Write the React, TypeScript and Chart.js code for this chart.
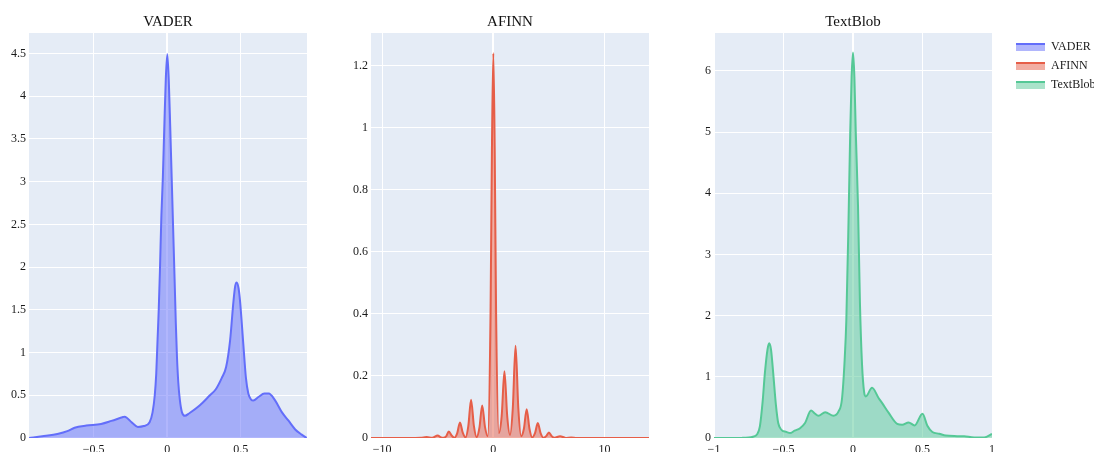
import React, { useEffect, useRef } from 'react';
import { Chart, registerables } from 'chart.js';

Chart.register(...registerables);

const FONT = '"Liberation Serif", "Times New Roman", serif';

// ---------------- data ----------------
const vaderX = [-0.94, -0.85, -0.74, -0.68, -0.63, -0.55, -0.45, -0.38, -0.3, -0.29, -0.24, -0.2, -0.16, -0.12, -0.1, -0.085, -0.075, -0.066, -0.058, -0.05, -0.04, -0.03, -0.02, -0.01, 0, 0.01, 0.02, 0.03, 0.04, 0.05, 0.058, 0.066, 0.075, 0.086, 0.1, 0.12, 0.15, 0.22, 0.29, 0.33, 0.37, 0.4, 0.427, 0.45, 0.462, 0.472, 0.485, 0.495, 0.517, 0.535, 0.551, 0.57, 0.585, 0.62, 0.66, 0.69, 0.733, 0.78, 0.823, 0.87, 0.914, 0.948];
const vaderY = [0, 0.02, 0.05, 0.08, 0.12, 0.145, 0.165, 0.2, 0.245, 0.25, 0.18, 0.13, 0.14, 0.185, 0.3, 0.5, 0.75, 1.15, 1.5, 1.95, 2.6, 3.05, 3.65, 4.2, 4.49, 4.2, 3.65, 3.05, 2.45, 1.85, 1.35, 0.95, 0.65, 0.44, 0.3, 0.26, 0.29, 0.38, 0.5, 0.57, 0.7, 0.83, 1.14, 1.6, 1.78, 1.82, 1.75, 1.6, 1.1, 0.7, 0.52, 0.45, 0.44, 0.48, 0.52, 0.52, 0.44, 0.3, 0.205, 0.1, 0.04, 0];

const afinnX = [-11, -7, -6.5, -6, -5.5, -5, -4.75, -4.5, -4.25, -4, -3.75, -3.5, -3.25, -3, -2.75, -2.5, -2.25, -2, -1.75, -1.5, -1.25, -1, -0.75, -0.5, -0.25, -0.125, 0, 0.125, 0.25, 0.5, 0.75, 1, 1.25, 1.5, 1.75, 2, 2.25, 2.5, 2.75, 3, 3.25, 3.5, 3.75, 4, 4.25, 4.5, 4.75, 5, 5.25, 5.5, 6, 6.5, 7, 7.5, 14];
const afinnY = [0, 0, 0.0005, 0.003, 0.0005, 0.008, 0.003, 0.001, 0.005, 0.021, 0.008, 0.001, 0.015, 0.05, 0.017, 0.002, 0.038, 0.123, 0.04, 0.003, 0.033, 0.105, 0.036, 0.006, 0.4, 0.93, 1.24, 0.93, 0.4, 0.016, 0.07, 0.215, 0.07, 0.01, 0.095, 0.297, 0.095, 0.006, 0.03, 0.093, 0.03, 0.002, 0.016, 0.048, 0.016, 0.001, 0.006, 0.018, 0.006, 0.0005, 0.006, 0.0003, 0.002, 0, 0];

const textblobX = [-1, -0.8, -0.72, -0.69, -0.67, -0.65, -0.634, -0.615, -0.603, -0.59, -0.574, -0.555, -0.538, -0.513, -0.48, -0.453, -0.42, -0.381, -0.345, -0.302, -0.275, -0.249, -0.2, -0.14, -0.104, -0.08, -0.06, -0.048, -0.032, -0.02, -0.01, 0, 0.01, 0.02, 0.036, 0.05, 0.065, 0.08, 0.092, 0.137, 0.185, 0.21, 0.257, 0.318, 0.354, 0.4, 0.443, 0.5, 0.535, 0.571, 0.62, 0.667, 0.75, 0.8, 0.872, 0.944, 1];
const textblobY = [0, 0.002, 0.02, 0.06, 0.19, 0.6, 1.06, 1.45, 1.55, 1.45, 1.06, 0.55, 0.245, 0.13, 0.1, 0.08, 0.12, 0.16, 0.245, 0.45, 0.4, 0.364, 0.42, 0.364, 0.435, 0.625, 1.28, 1.93, 3.57, 5.0, 5.9, 6.3, 5.9, 5.0, 3.8, 2.2, 1.2, 0.75, 0.68, 0.82, 0.65, 0.57, 0.41, 0.23, 0.215, 0.255, 0.206, 0.397, 0.2, 0.098, 0.07, 0.04, 0.03, 0.027, 0.01, 0.01, 0.065];

const vaderTicksX = [-0.5, 0, 0.5];
const vaderTicksY = [0, 0.5, 1, 1.5, 2, 2.5, 3, 3.5, 4, 4.5];
const afinnTicksX = [-10, 0, 10];
const afinnTicksY = [0, 0.2, 0.4, 0.6, 0.8, 1, 1.2];
const textblobTicksX = [-1, -0.5, 0, 0.5, 1];
const textblobTicksY = [0, 1, 2, 3, 4, 5, 6];

const seriesNames = ['VADER', 'AFINN', 'TextBlob'];
const lineColors = ['#636EFA', '#E65E48', '#55C896'];
const fillColors = ['rgba(99,110,250,0.5)', 'rgba(230,94,72,0.5)', 'rgba(85,200,150,0.5)'];

// ---------------- layout ----------------
const H = 452;
const AXIS_W = 40;
const PAD_R = 15;

type Sub = {
  idx: number;
  xs: number[];
  ys: number[];
  xMin: number;
  xMax: number;
  yMax: number;
  xTicks: number[];
  yTicks: number[];
  plotLeft: number;
  plotWidth: number;
};

const subs: Sub[] = [
  { idx: 0, xs: vaderX, ys: vaderY, xMin: -0.94, xMax: 0.95, yMax: 4.74, xTicks: vaderTicksX, yTicks: vaderTicksY, plotLeft: 29, plotWidth: 278 },
  { idx: 1, xs: afinnX, ys: afinnY, xMin: -11, xMax: 14, yMax: 1.305, xTicks: afinnTicksX, yTicks: afinnTicksY, plotLeft: 371, plotWidth: 278 },
  { idx: 2, xs: textblobX, ys: textblobY, xMin: -1, xMax: 1, yMax: 6.62, xTicks: textblobTicksX, yTicks: textblobTicksY, plotLeft: 714, plotWidth: 278 },
];

const fmt = (v: number) => {
  const s = String(Math.round(v * 1000) / 1000);
  return s.replace('-', '\u2212');
};

const bgPlugin = {
  id: 'plotBg',
  beforeDraw(chart: any) {
    const { ctx, chartArea } = chart;
    if (!chartArea) return;
    ctx.save();
    ctx.fillStyle = '#E5ECF6';
    ctx.fillRect(chartArea.left, chartArea.top, chartArea.right - chartArea.left, chartArea.bottom - chartArea.top);
    ctx.restore();
  },
};

function SubPlot({ s }: { s: Sub }) {
  const ref = useRef<HTMLCanvasElement>(null);
  const width = AXIS_W + s.plotWidth + PAD_R;
  useEffect(() => {
    const canvas = ref.current!;
    const points = s.xs.map((x, i) => ({ x, y: s.ys[i] }));
    const gridWidth = (c: any) => (c.tick && c.tick.value === 0 ? 2 : 1);
    const chart = new Chart(canvas, {
      type: 'line',
      data: {
        datasets: [
          {
            label: seriesNames[s.idx],
            data: points,
            borderColor: lineColors[s.idx],
            backgroundColor: fillColors[s.idx],
            borderWidth: 2,
            pointRadius: 0,
            fill: 'origin',
            cubicInterpolationMode: 'monotone',
          },
        ],
      },
      options: {
        responsive: false,
        animation: false,
        layout: { padding: { left: 0, right: PAD_R, top: 0, bottom: 0 } },
        plugins: {
          legend: { display: false },
          tooltip: { enabled: false },
          title: {
            display: true,
            text: seriesNames[s.idx],
            fullSize: false,
            color: '#111',
            font: { family: FONT, size: 15, weight: 'normal' },
            padding: { top: 13, bottom: 2 },
          },
        },
        scales: {
          x: {
            type: 'linear',
            min: s.xMin,
            max: s.xMax,
            border: { display: false },
            grid: { color: '#ffffff', lineWidth: gridWidth, drawTicks: false },
            ticks: {
              color: '#1a1a1a',
              font: { family: FONT, size: 12 },
              padding: 5,
              maxRotation: 0,
              autoSkip: false,
              callback: (v: any) => fmt(Number(v)),
            },
            afterBuildTicks: (axis: any) => {
              axis.ticks = s.xTicks.map((v) => ({ value: v }));
            },
            afterFit: (axis: any) => {
              axis.height = 14;
              axis.paddingLeft = 0;
              axis.paddingRight = 0;
            },
          },
          y: {
            type: 'linear',
            min: 0,
            max: s.yMax,
            border: { display: false },
            grid: { color: '#ffffff', lineWidth: gridWidth, drawTicks: false },
            ticks: {
              color: '#1a1a1a',
              font: { family: FONT, size: 12 },
              padding: 3,
              autoSkip: false,
              callback: (v: any) => fmt(Number(v)),
            },
            afterBuildTicks: (axis: any) => {
              axis.ticks = s.yTicks.map((v) => ({ value: v }));
            },
            afterFit: (axis: any) => {
              axis.width = AXIS_W;
              axis.paddingTop = 0;
              axis.paddingBottom = 0;
            },
          },
        },
      } as any,
      plugins: [bgPlugin],
    });
    return () => chart.destroy();
  }, []);
  return (
    <canvas
      ref={ref}
      width={width}
      height={H}
      style={{ position: 'absolute', left: s.plotLeft - AXIS_W, top: 0, width, height: H }}
    />
  );
}

function makeSwatch(i: number) {
  const c = document.createElement('canvas');
  c.width = 29;
  c.height = 8;
  const g = c.getContext('2d')!;
  g.fillStyle = fillColors[i];
  g.fillRect(0, 0, 29, 8);
  g.fillStyle = lineColors[i];
  g.fillRect(0, 0, 29, 2);
  return c;
}

function LegendBox() {
  const ref = useRef<HTMLCanvasElement>(null);
  useEffect(() => {
    const canvas = ref.current!;
    const swatches = seriesNames.map((_, i) => makeSwatch(i));
    const chart = new Chart(canvas, {
      type: 'line',
      data: {
        datasets: seriesNames.map((name, i) => ({
          label: name,
          data: [],
          borderColor: lineColors[i],
          backgroundColor: fillColors[i],
        })),
      },
      options: {
        responsive: false,
        animation: false,
        layout: { padding: 0 },
        scales: { x: { display: false }, y: { display: false } },
        plugins: {
          tooltip: { enabled: false },
          legend: {
            display: true,
            position: 'left',
            align: 'start',
            onClick: () => {},
            labels: {
              usePointStyle: true,
              pointStyleWidth: 29,
              padding: 7,
              font: { family: FONT, size: 12 },
              color: '#1a1a1a',
              generateLabels: () =>
                seriesNames.map((name, i) => ({
                  text: name,
                  pointStyle: swatches[i],
                  fillStyle: fillColors[i],
                  strokeStyle: lineColors[i],
                  lineWidth: 0,
                  fontColor: '#1a1a1a',
                  hidden: false,
                  datasetIndex: i,
                })),
            },
          },
        },
      } as any,
    });
    return () => chart.destroy();
  }, []);
  return (
    <canvas
      ref={ref}
      width={200}
      height={200}
      style={{ position: 'absolute', left: 1009, top: 34, width: 200, height: 200 }}
    />
  );
}

export default function App() {
  return (
    <div
      style={{
        position: 'fixed',
        left: 0,
        top: 0,
        width: 1094,
        height: H,
        overflow: 'hidden',
        background: '#ffffff',
      }}
    >
      {subs.map((s) => (
        <SubPlot key={s.idx} s={s} />
      ))}
      <LegendBox />
    </div>
  );
}
